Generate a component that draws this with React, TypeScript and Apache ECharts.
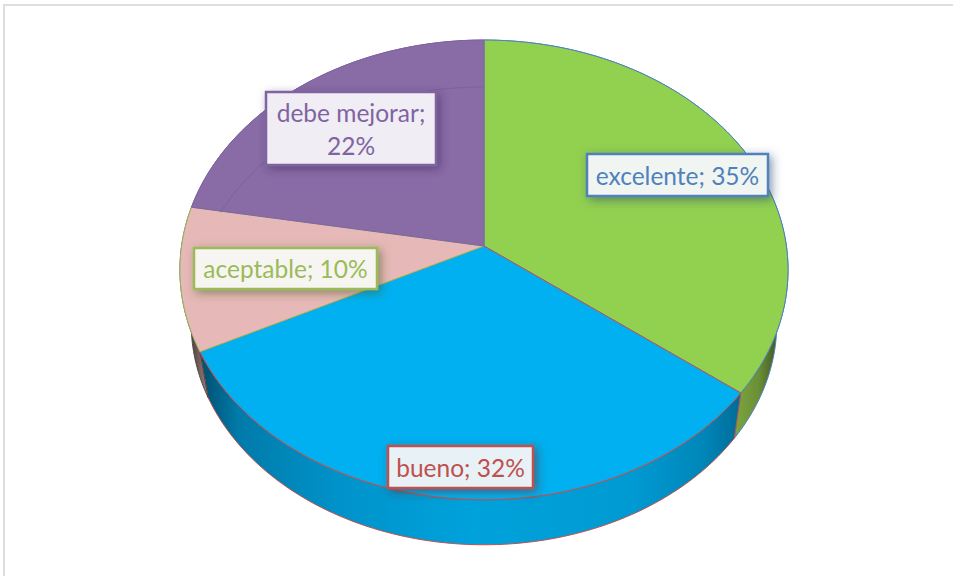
import React, { useEffect, useRef } from "react";
import * as echarts from "echarts";

const categories = ["excelente", "bueno", "aceptable", "debe mejorar"];
const values = [35, 32, 10, 22];

const topColors = ["#92D050", "#00B0F0", "#E6B8B7", "#896CA6"];
const edgeColors = ["#4F81BD", "#C0504D", "#9BBB59", "#8064A2"];
const wallEdges = ["#4F81BD", "#C0504D", "#54463C", "#8064A2"];
const labelFills = ["#F0F5F1", "#E8F1F6", "#F6F5F2", "#F0EDF4"];
const labelShadows = ["rgba(40,70,110,0.55)", "rgba(110,40,40,0.55)", "rgba(70,95,40,0.55)", "rgba(60,40,90,0.55)"];
const labelBoxes = [
  { x: 587, y: 154, w: 181, h: 42, wrap: false },
  { x: 388, y: 446, w: 145, h: 42, wrap: false },
  { x: 194, y: 248, w: 183, h: 41, wrap: false },
  { x: 266, y: 92, w: 170, h: 73, wrap: true },
];

const FONT = '24.5px Lato, "Open Sans", sans-serif';
const TOTAL = values.reduce((a, b) => a + b, 0);
const CX = 484;
const APEX_Y = 246;
const K = -0.104;
const B = 201.8;
const A = 302.4;

// Perspective projection of the pie's unit disc onto the picture.
function project(fraction: number): [number, number] {
  const t = fraction * Math.PI * 2;
  const u = Math.sin(t);
  const v = -Math.cos(t);
  const d = 1 + K * v;
  return [CX + (A * u) / d, (APEX_Y + B * v) / d];
}
function lower(fraction: number): [number, number] {
  const p = project(0.5 + (fraction - 0.5) * 1.02);
  return [CX + (p[0] - CX) * 0.963, 323.5 + (p[1] - 270) * 0.963];
}
function inner(fraction: number): [number, number] {
  const p = project(fraction);
  return [CX + (p[0] - CX) * 0.96, 307 + (p[1] - 270) * 0.957];
}
function sliceRange(i: number, value: number): [number, number] {
  let s = 0;
  for (let k = 0; k < i; k++) s += values[k];
  return [s / TOTAL, (s + value) / TOTAL];
}
function samples(a: number, b: number, n = 90): number[] {
  const out: number[] = [];
  for (let i = 0; i <= n; i++) out.push(a + ((b - a) * i) / n);
  return out;
}

const G = echarts.graphic.LinearGradient as any;
const wallFills = [
  new G(737, 0, 785, 0, [
    { offset: 0, color: "#7AA43D" },
    { offset: 0.45, color: "#6A8F35" },
    { offset: 0.8, color: "#465F22" },
    { offset: 1, color: "#2D3F15" },
  ], true),
  new G(201, 0, 740, 0, [
    { offset: 0, color: "#004F70" },
    { offset: 0.07, color: "#007BAA" },
    { offset: 0.25, color: "#0092C9" },
    { offset: 0.5, color: "#00A2DC" },
    { offset: 0.8, color: "#009AD2" },
    { offset: 0.93, color: "#0087B9" },
    { offset: 1, color: "#006C99" },
  ], true),
  new G(186, 0, 210, 0, [
    { offset: 0, color: "#3A2D2D" },
    { offset: 1, color: "#A08888" },
  ], true),
  "#5F4B78",
];

export default function App() {
  const ref = useRef<HTMLDivElement>(null);
  useEffect(() => {
    const chart = echarts.init(ref.current!, undefined, { renderer: "svg" });
    const data = values.map((v, i) => ({ name: categories[i], value: [v] }));
    chart.setOption({
      animation: false,
      backgroundColor: "#FFFFFF",
      graphic: [
        { type: "line", z: 0, shape: { x1: 3, y1: 5, x2: 953, y2: 5 }, style: { stroke: "#DEDEDE", lineWidth: 2 } },
        { type: "line", z: 0, shape: { x1: 4, y1: 4, x2: 4, y2: 576 }, style: { stroke: "#DEDEDE", lineWidth: 2 } },
      ],
      series: [
        {
          type: "custom",
          name: "lateral",
          coordinateSystem: "none",
          z: 2,
          data,
          renderItem: (params: any, api: any) => {
            const i = params.dataIndex;
            const [a, b] = sliceRange(i, api.value(0));
            const fractions = samples(a, b);
            const top = fractions.map(project);
            const bottom = fractions.map(lower).reverse();
            return {
              type: "polygon",
              shape: { points: [...top, ...bottom] },
              style: { fill: wallFills[i], stroke: wallEdges[i], lineWidth: 1 },
            };
          },
        },
        {
          type: "custom",
          name: "superior",
          coordinateSystem: "none",
          z: 3,
          data,
          renderItem: (params: any, api: any) => {
            const i = params.dataIndex;
            const [a, b] = sliceRange(i, api.value(0));
            const arc = samples(a, b).map(project);
            const children: any[] = [
              {
                type: "polygon",
                shape: { points: [[CX, APEX_Y], ...arc] },
                style: { fill: topColors[i], stroke: edgeColors[i], lineWidth: 1 },
              },
            ];
            if (i === values.length - 1) {
              children.push({
                type: "polyline",
                shape: { points: samples(a + (b - a) * 0.125, b).map(inner) },
                style: { fill: "none", stroke: "#7C619B", lineWidth: 1 },
              });
            }
            return { type: "group", children };
          },
        },
        {
          type: "custom",
          name: "etiquetas",
          coordinateSystem: "none",
          z: 5,
          data,
          renderItem: (params: any, api: any) => {
            const i = params.dataIndex;
            const box = labelBoxes[i];
            const sep = box.wrap ? ";\n" : "; ";
            return {
              type: "group",
              children: [
                {
                  type: "rect",
                  shape: { x: box.x, y: box.y, width: box.w, height: box.h },
                  style: {
                    fill: labelFills[i],
                    stroke: edgeColors[i],
                    lineWidth: 2.5,
                    shadowBlur: 10,
                    shadowOffsetX: 3,
                    shadowOffsetY: 3,
                    shadowColor: labelShadows[i],
                  },
                },
                {
                  type: "text",
                  style: {
                    text: `${categories[i]}${sep}${api.value(0)}%`,
                    x: box.x + box.w / 2,
                    y: box.y + box.h / 2,
                    align: "center",
                    verticalAlign: "middle",
                    font: FONT,
                    lineHeight: 33,
                    fill: edgeColors[i],
                  },
                },
              ],
            };
          },
        },
      ],
    });
    return () => chart.dispose();
  }, []);
  return <div ref={ref} style={{ position: "absolute", left: 0, top: 0, width: 953, height: 576 }} />;
}
